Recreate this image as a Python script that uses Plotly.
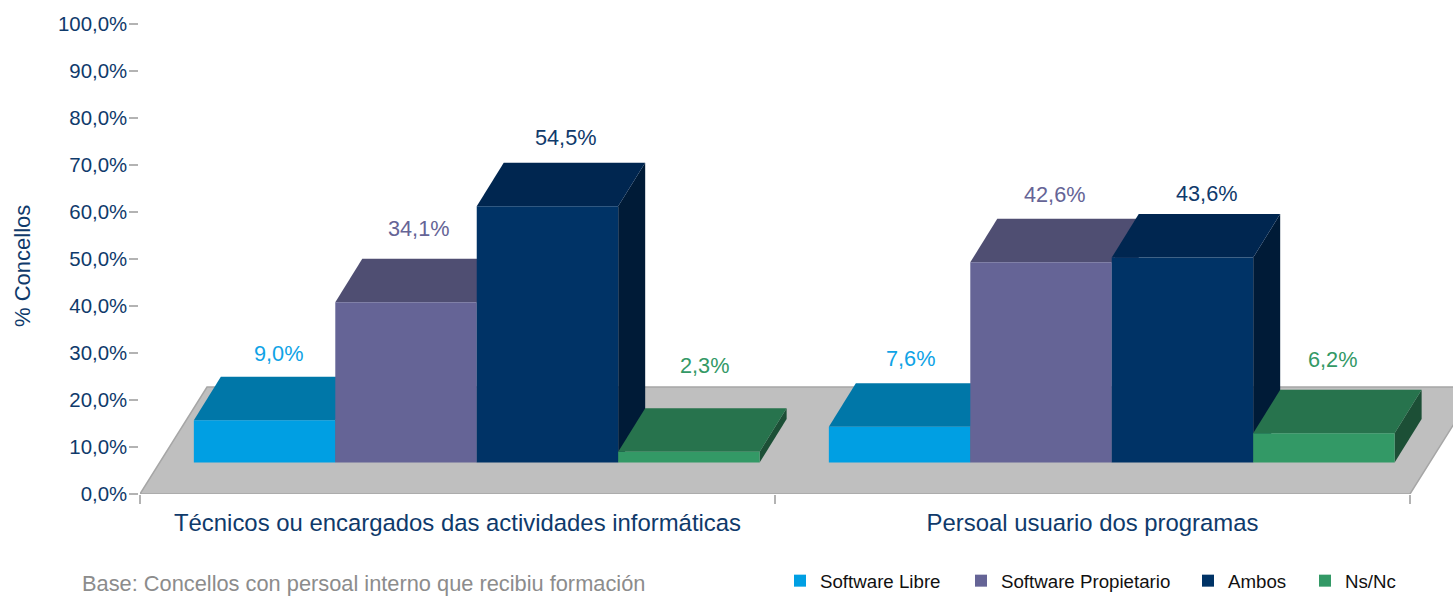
import plotly.graph_objects as go

# ---- data ----
categories = ["Técnicos ou encargados das actividades informáticas", "Persoal usuario dos programas"]
series_names = ["Software Libre", "Software Propietario", "Ambos", "Ns/Nc"]
software_libre = [9.0, 7.6]
software_propietario = [34.1, 42.6]
ambos = [54.5, 43.6]
ns_nc = [2.3, 6.2]
y_ticks = [0, 10, 20, 30, 40, 50, 60, 70, 80, 90, 100]
y_tick_labels = [f"{t},0%" for t in y_ticks]

# ---- styles ----
front_colors = ["#009FE3", "#656496", "#003366", "#339966"]
top_colors = ["#0077A8", "#4F4E72", "#002650", "#27734D"]
side_colors = ["#00597E", "#3B3A55", "#001B37", "#1C4F36"]
label_colors = ["#0FA3E6", "#656496", "#0F3A6B", "#339966"]
TEXT = "#0F3A6B"
FONT = "Liberation Sans"

# ---- pseudo-3D geometry, in axis units ----
W, H, ML, MT, MB = 1453, 596, 140, 24, 102
x_px = 635.0            # pixels per category
y_px = 4.7              # pixels per percent
x_range = [-0.5, -0.5 + (W - ML) / x_px]
group_shift = 0.0303
bar_gap = 0.109
bar_width = (1 - bar_gap) / 4
floor_y = 6.7           # front base of the bars
depth_x = 27 / x_px
depth_y = 43.5 / y_px
floor_depth_x = 67 / x_px
floor_depth_y = 107 / y_px

# label offset in pixels from bar front top-centre, one per bar
label_dx = [[13.5, 10.5], [12.5, 14], [19, 25], [16, 9]]
label_dy = [[67, 68], [74, 68], [69, 64], [86, 74]]

values = [software_libre, software_propietario, ambos, ns_nc]
fig = go.Figure()

# floor
fig.add_trace(go.Scatter(
    x=[x_range[0], 1.5, 1.5 + floor_depth_x, x_range[0] + floor_depth_x, x_range[0]],
    y=[0, 0, floor_depth_y, floor_depth_y, 0],
    mode="lines", fill="toself", fillcolor="#BFBFBF",
    line=dict(color="#A6A6A6", width=1.5), showlegend=False, hoverinfo="skip", zorder=0))

annotations = []
for s, name in enumerate(series_names):
    xc = [c + group_shift for c in range(len(categories))]
    for c, v in enumerate(values[s]):
        x0 = c + group_shift - (1 - bar_gap) / 2 + s * bar_width
        x1 = x0 + bar_width
        top = floor_y + v
        fig.add_trace(go.Scatter(
            x=[x1, x1 + depth_x, x1 + depth_x, x1, x1],
            y=[floor_y, floor_y + depth_y, top + depth_y, top, floor_y],
            mode="none", fill="toself", fillcolor=side_colors[s],
            showlegend=False, hoverinfo="skip", zorder=2 * s + 1))
        fig.add_trace(go.Scatter(
            x=[x0, x1, x1 + depth_x, x0 + depth_x, x0],
            y=[top, top, top + depth_y, top + depth_y, top],
            mode="none", fill="toself", fillcolor=top_colors[s],
            showlegend=False, hoverinfo="skip", zorder=2 * s + 1))
        annotations.append(dict(
            x=(x0 + x1) / 2, y=top, xref="x", yref="y",
            xshift=label_dx[s][c], yshift=label_dy[s][c],
            text=f"{v:.1f}".replace(".", ",") + "%", showarrow=False,
            font=dict(family=FONT, size=21.7, color=label_colors[s])))
    fig.add_trace(go.Bar(
        x=xc, y=values[s], base=floor_y, name=name, marker=dict(color=front_colors[s], line=dict(width=0)),
        zorder=2 * s + 2, legend="legend" if s == 0 else f"legend{s + 1}"))

annotations.append(dict(
    x=(22 - ML) / (W - ML), y=(H - MB - 266) / (H - MB - MT), xref="paper", yref="paper",
    xanchor="center", yanchor="middle", text="% Concellos", textangle=-90, showarrow=False,
    font=dict(family=FONT, size=22, color=TEXT)))
annotations.append(dict(
    x=(80 - ML) / (W - ML), y=(H - MB - 583) / (H - MB - MT), xref="paper", yref="paper",
    xanchor="left", yanchor="middle",
    text="Base: Concellos con persoal interno que recibiu formación", showarrow=False,
    font=dict(family=FONT, size=21.8, color="#8C8C8C")))

legend_x_px = [780, 961, 1188, 1305]
legend_common = dict(orientation="h", xanchor="left", yanchor="middle", y=(H - MB - 581) / (H - MB - MT),
                     bgcolor="rgba(0,0,0,0)", font=dict(family=FONT, size=18.7, color="#111111"),
                     itemclick=False, itemdoubleclick=False)
legends = {("legend" if i == 0 else f"legend{i + 1}"): dict(legend_common, x=(p - ML) / (W - ML))
           for i, p in enumerate(legend_x_px)}

fig.update_layout(
    width=W, height=H, margin=dict(l=ML, r=0, t=MT, b=MB, autoexpand=False),
    paper_bgcolor="white", plot_bgcolor="white", barmode="group", bargap=bar_gap, bargroupgap=0,
    font=dict(family=FONT, color=TEXT), annotations=annotations, showlegend=True,
    xaxis=dict(range=x_range, tickvals=[0, 1], ticktext=categories, ticks="", showgrid=False, zeroline=False,
               showline=False, tickfont=dict(family=FONT, size=23.9, color=TEXT), ticklabelstandoff=12,
               minor=dict(tickvals=[-0.5, 0.5, 1.5], ticks="outside", ticklen=9, tickcolor="#B3B3B3", tickwidth=1.5, showgrid=False)),
    yaxis=dict(range=[0, 100], tickvals=y_ticks, ticktext=y_tick_labels, ticks="outside", ticklen=9, tickwidth=1.5,
               tickcolor="#B3B3B3", showgrid=False, zeroline=False, showline=True, linecolor="#B3B3B3", linewidth=1.5,
               ticklabelstandoff=-2, tickfont=dict(family=FONT, size=20.4, color=TEXT)),
    **legends)

fig.write_html("out.html", config={"displayModeBar": False},
               post_script="document.body.style.margin='0';document.body.style.overflow='hidden';")
